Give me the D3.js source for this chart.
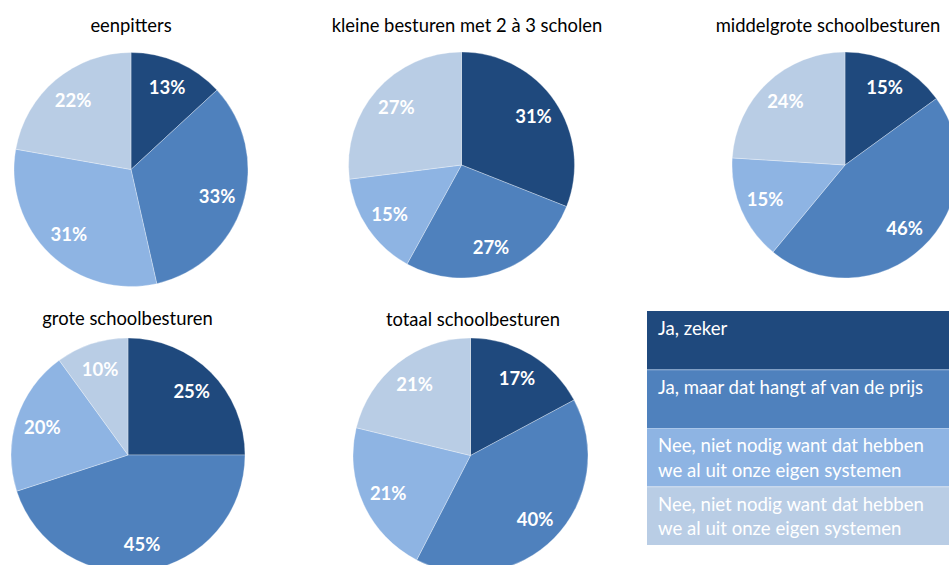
<!DOCTYPE html>
<html>
<head>
<meta charset="utf-8">
<script src="https://cdn.jsdelivr.net/npm/d3@7"></script>
<style>
  body { margin: 0; background: #fff; }
  svg { display: block; font-family: Lato, "Open Sans", sans-serif; }
</style>
</head>
<body>
<div id="root"></div>
<script>
// chart data
var titles = ['eenpitters', 'kleine besturen met 2 à 3 scholen', 'middelgrote schoolbesturen', 'grote schoolbesturen', 'totaal schoolbesturen'];
var answers = ['Ja, zeker', 'Ja, maar dat hangt af van de prijs',
  'Nee, niet nodig want dat hebben\nwe al uit onze eigen systemen',
  'Nee, niet nodig want dat hebben\nwe al uit onze eigen systemen'];
var eenpitters = [13, 33, 31, 22];
var kleineBesturen = [31, 27, 15, 27];
var middelgroteBesturen = [15, 46, 15, 24];
var groteBesturen = [25, 45, 20, 10];
var totaalBesturen = [17, 40, 21, 21];
var series = [eenpitters, kleineBesturen, middelgroteBesturen, groteBesturen, totaalBesturen];

var width = 949, height = 565;

// pie placement (layout only)
var layout = [
  { cx: 131, cy: 169.5, r: 117, tx: 131, ty: 32 },
  { cx: 461.5, cy: 165, r: 113, tx: 467, ty: 32 },
  { cx: 845, cy: 165, r: 113, tx: 828, ty: 32 },
  { cx: 128, cy: 455, r: 117, tx: 127.5, ty: 325 },
  { cx: 470.5, cy: 455.5, r: 117.5, tx: 473, ty: 326 }
];

var color = d3.scaleOrdinal()
  .domain(d3.range(answers.length))
  .range(['#1f497d', '#4f81bd', '#8eb4e3', '#b9cde5']);

var svg = d3.select('#root')
  .append('svg')
    .attr('width', width)
    .attr('height', height);

var pie = d3.pie()
  .sort(null)
  .value(d => d);

series.forEach((values, k) => {
  var L = layout[k];

  svg.append('text')
    .attr('x', L.tx)
    .attr('y', L.ty)
    .attr('text-anchor', 'middle')
    .attr('font-size', 18.4)
    .attr('fill', '#000')
    .text(titles[k]);

  var g = svg.append('g')
    .attr('transform', 'translate(' + L.cx + ',' + L.cy + ')');

  var arc = d3.arc().innerRadius(0).outerRadius(L.r);
  var labelArc = d3.arc().innerRadius(L.r * 0.77).outerRadius(L.r * 0.77);
  var arcs = pie(values);

  g.selectAll('path')
    .data(arcs)
    .enter()
    .append('path')
      .attr('d', arc)
      .attr('fill', (d, i) => color(i))
      .attr('stroke', '#fff')
      .attr('stroke-width', 0.6)
      .attr('stroke-opacity', 0.5);

  g.selectAll('text')
    .data(arcs)
    .enter()
    .append('text')
      .attr('transform', d => 'translate(' + labelArc.centroid(d) + ')')
      .attr('dy', '0.36em')
      .attr('text-anchor', 'middle')
      .attr('font-size', 18.5)
      .attr('font-weight', 'bold')
      .attr('fill', '#fff')
      .text(d => d.data + '%');
});

// legend box
var rowScale = d3.scaleBand()
  .domain(d3.range(answers.length))
  .range([311, 545]);

var legend = svg.append('g');

var rows = legend.selectAll('g')
  .data(answers)
  .enter()
  .append('g')
    .attr('transform', (d, i) => 'translate(647,' + rowScale(i) + ')');

rows.append('rect')
  .attr('width', 302)
  .attr('height', rowScale.bandwidth())
  .attr('fill', (d, i) => color(i));

rows.append('line')
  .attr('x1', 0)
  .attr('x2', 302)
  .attr('y1', 0.5)
  .attr('y2', 0.5)
  .attr('stroke', '#fff')
  .attr('stroke-opacity', (d, i) => i ? 0.25 : 0);

rows.each(function (d) {
  var t = d3.select(this).append('text')
    .attr('x', 11)
    .attr('y', 24)
    .attr('font-size', 18.6)
    .attr('fill', '#fff');
  d.split('\n').forEach((line, j) => {
    t.append('tspan')
      .attr('x', 11)
      .attr('dy', j ? 24.5 : 0)
      .text(line);
  });
});
</script>
</body>
</html>
